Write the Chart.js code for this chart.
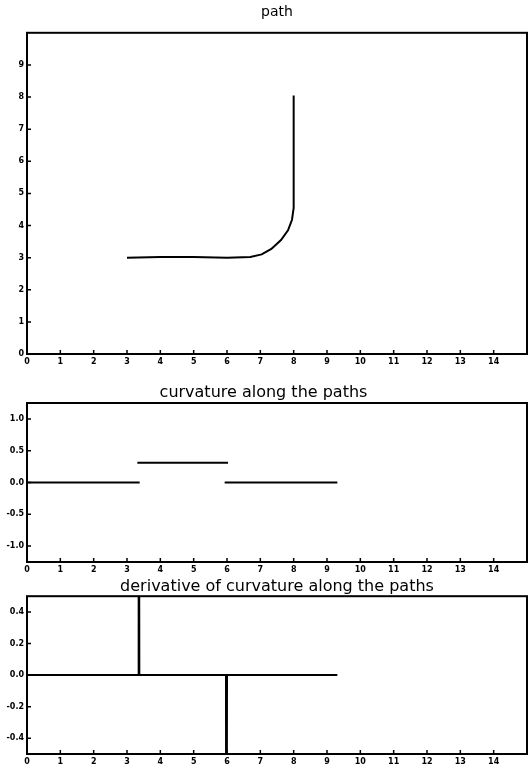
<!DOCTYPE html>
<html>
<head>
<meta charset="utf-8">
<script src="https://cdn.jsdelivr.net/npm/chart.js@4/dist/chart.umd.min.js"></script>
<style>
  body { margin: 0; background: #fff; }
  .panel { position: absolute; left: 0; }
</style>
</head>
<body>
<div class="panel" style="top:0px"><canvas id="pathChart" width="528" height="372"></canvas></div>
<div class="panel" style="top:372px"><canvas id="curvChart" width="528" height="205"></canvas></div>
<div class="panel" style="top:577px"><canvas id="derivChart" width="528" height="193"></canvas></div>
<script>
// path traced in the plane
const pathX = [3.0, 4.0, 5.0, 6.0, 6.7, 7.04, 7.33, 7.62, 7.83, 7.95, 8.0, 8.0];
const pathY = [3.0, 3.02, 3.02, 3.0, 3.02, 3.1, 3.27, 3.55, 3.85, 4.18, 4.55, 8.05];

// curvature vs arc length (null = gap between pieces)
const curvS = [0, 3.38, 3.35, 3.31, 6.03, 6.0, 5.93, 9.31];
const curvK = [0, 0, null, 0.31, 0.31, null, 0, 0];

// derivative of curvature vs arc length (spikes run off the plot)
const derivS = [0, 3.34, 3.35, 3.37, 5.97, 5.98, 6.0, 9.31];
const derivK = [0, 0, 3, 0, 0, -3, 0, 0];

// tick labels
const xTicks = [0, 1, 2, 3, 4, 5, 6, 7, 8, 9, 10, 11, 12, 13, 14];
const pathYTicks = [0, 1, 2, 3, 4, 5, 6, 7, 8, 9];
const curvYTicks = [-1.0, -0.5, 0.0, 0.5, 1.0];
const derivYTicks = [-0.4, -0.2, 0.0, 0.2, 0.4];

const tickFont = { family: "DejaVu Sans", size: 8, weight: "bold" };

// draws the frame and short inward tick marks
const boxPlugin = {
  id: "box",
  afterDatasetsDraw(chart) {
    const { ctx, chartArea: a, scales } = chart;
    ctx.save();
    ctx.strokeStyle = "#000";
    ctx.lineWidth = 2;
    ctx.strokeRect(a.left, a.top, a.right - a.left, a.bottom - a.top);
    ctx.lineWidth = 1.5;
    ctx.beginPath();
    scales.x.ticks.forEach((t) => {
      const px = scales.x.getPixelForValue(t.value);
      ctx.moveTo(px, a.bottom);
      ctx.lineTo(px, a.bottom - 4);
    });
    scales.y.ticks.forEach((t) => {
      const py = scales.y.getPixelForValue(t.value);
      ctx.moveTo(a.left, py);
      ctx.lineTo(a.left + 4, py);
    });
    ctx.stroke();
    ctx.restore();
  },
};

function points(xs, ys) {
  return xs.map((x, i) => ({ x: x, y: ys[i] }));
}

function makeChart(id, opts) {
  return new Chart(document.getElementById(id), {
    type: "scatter",
    data: {
      datasets: [
        {
          data: points(opts.xs, opts.ys),
          showLine: true,
          spanGaps: false,
          borderColor: "#000",
          borderWidth: 2,
          pointRadius: 0,
          tension: 0,
        },
      ],
    },
    options: {
      responsive: false,
      animation: false,
      layout: { padding: { left: 0, right: 1, top: 0, bottom: 0 } },
      plugins: {
        legend: { display: false },
        tooltip: { enabled: false },
        title: {
          display: true,
          text: opts.title,
          color: "#000",
          fullSize: opts.titleFull,
          font: { family: "DejaVu Sans", size: opts.titleSize, weight: "normal" },
          padding: opts.titlePad,
        },
      },
      scales: {
        x: {
          type: "linear",
          min: 0,
          max: 15,
          grid: { display: false, drawTicks: false },
          border: { display: false },
          afterBuildTicks: (s) => { s.ticks = xTicks.map((v) => ({ value: v })); },
          afterFit: (s) => { s.height = opts.xHeight; },
          ticks: {
            color: "#000",
            font: tickFont,
            padding: 3,
            maxRotation: 0,
            autoSkip: false,
            callback: (v) => String(v),
          },
        },
        y: {
          type: "linear",
          min: opts.yMin,
          max: opts.yMax,
          grid: { display: false, drawTicks: false },
          border: { display: false },
          afterBuildTicks: (s) => { s.ticks = opts.yTicks.map((v) => ({ value: v })); },
          afterFit: (s) => { s.width = 27; },
          ticks: {
            color: "#000",
            font: tickFont,
            padding: 3,
            autoSkip: false,
            callback: opts.yFmt,
          },
        },
      },
    },
    plugins: [boxPlugin],
  });
}

makeChart("pathChart", {
  title: "path",
  titleSize: 14,
  titleFull: false,
  titlePad: { top: 4, bottom: 12 },
  xs: pathX, ys: pathY,
  yMin: 0, yMax: 10, yTicks: pathYTicks,
  yFmt: (v) => String(v),
  xHeight: 18,
});

makeChart("curvChart", {
  title: "curvature along the paths",
  titleSize: 16,
  titleFull: true,
  titlePad: { top: 11.4, bottom: 0.4 },
  xs: curvS, ys: curvK,
  yMin: -1.25, yMax: 1.25, yTicks: curvYTicks,
  yFmt: (v) => Number(v).toFixed(1),
  xHeight: 15,
});

makeChart("derivChart", {
  title: "derivative of curvature along the paths",
  titleSize: 16,
  titleFull: false,
  titlePad: { top: 0, bottom: 0 },
  xs: derivS, ys: derivK,
  yMin: -0.5, yMax: 0.5, yTicks: derivYTicks,
  yFmt: (v) => Number(v).toFixed(1),
  xHeight: 16,
});
</script>
</body>
</html>
